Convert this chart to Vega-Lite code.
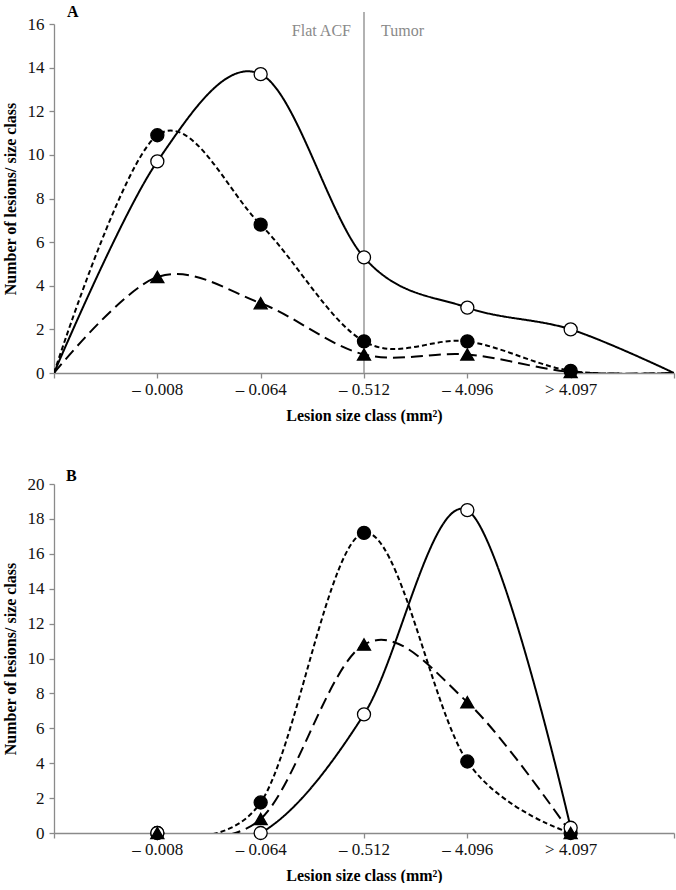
{
  "$schema": "https://vega.github.io/schema/vega-lite/v6.json",
  "background": "white",
  "padding": {"left": 2, "top": 4, "right": 2, "bottom": 0},
  "config": {
    "font": "Liberation Serif",
    "view": {"stroke": null},
    "concat": {"spacing": 45},
    "axis": {
      "grid": false,
      "domainColor": "#8a8a8a",
      "tickColor": "#8a8a8a",
      "domainWidth": 1.3,
      "tickWidth": 1.3,
      "tickSize": 5,
      "labelOverlap": false,
      "labelFont": "Liberation Serif",
      "labelFontSize": 17,
      "labelColor": "#111",
      "titleFont": "Liberation Serif",
      "titleFontSize": 16,
      "titleFontWeight": "bold",
      "titleColor": "#000"
    },
    "title": {"font": "Liberation Serif", "fontSize": 16, "fontWeight": "bold", "anchor": "start", "frame": "group", "color": "#000"}
  },
  "datasets": {
    "pts": [
      {"p": "A", "s": "filled", "x": 0, "y": 0},
      {"p": "A", "s": "filled", "x": 1, "y": 10.9},
      {"p": "A", "s": "filled", "x": 2, "y": 6.8},
      {"p": "A", "s": "filled", "x": 3, "y": 1.45},
      {"p": "A", "s": "filled", "x": 4, "y": 1.45},
      {"p": "A", "s": "filled", "x": 5, "y": 0.1},
      {"p": "A", "s": "filled", "x": 6, "y": 0},
      {"p": "A", "s": "open", "x": 0, "y": 0},
      {"p": "A", "s": "open", "x": 1, "y": 9.7},
      {"p": "A", "s": "open", "x": 2, "y": 13.7},
      {"p": "A", "s": "open", "x": 3, "y": 5.3},
      {"p": "A", "s": "open", "x": 4, "y": 3.0},
      {"p": "A", "s": "open", "x": 5, "y": 2.0},
      {"p": "A", "s": "open", "x": 6, "y": 0},
      {"p": "A", "s": "tri", "x": 0, "y": 0},
      {"p": "A", "s": "tri", "x": 1, "y": 4.4},
      {"p": "A", "s": "tri", "x": 2, "y": 3.2},
      {"p": "A", "s": "tri", "x": 3, "y": 0.85},
      {"p": "A", "s": "tri", "x": 4, "y": 0.85},
      {"p": "A", "s": "tri", "x": 5, "y": 0.05},
      {"p": "A", "s": "tri", "x": 6, "y": 0},
      {"p": "B", "s": "filled", "x": 1, "y": 0},
      {"p": "B", "s": "filled", "x": 2, "y": 1.75},
      {"p": "B", "s": "filled", "x": 3, "y": 17.2},
      {"p": "B", "s": "filled", "x": 4, "y": 4.1},
      {"p": "B", "s": "filled", "x": 5, "y": 0},
      {"p": "B", "s": "open", "x": 1, "y": 0},
      {"p": "B", "s": "open", "x": 2, "y": 0},
      {"p": "B", "s": "open", "x": 3, "y": 6.8},
      {"p": "B", "s": "open", "x": 4, "y": 18.5},
      {"p": "B", "s": "open", "x": 5, "y": 0.3},
      {"p": "B", "s": "tri", "x": 1, "y": 0},
      {"p": "B", "s": "tri", "x": 2, "y": 0.8},
      {"p": "B", "s": "tri", "x": 3, "y": 10.8},
      {"p": "B", "s": "tri", "x": 4, "y": 7.5},
      {"p": "B", "s": "tri", "x": 5, "y": 0}
    ],
    "divider": [{"x": 3, "y0": 0, "y1": 16.55}],
    "zones": [{"x": 3, "y": 15.7, "left": "Flat ACF", "right": "Tumor"}]
  },
  "vconcat": [
    {
      "width": 620,
      "height": 349,
      "title": {"text": "A", "dx": 13, "offset": -9},
      "layer": [
        {
          "data": {"name": "divider"},
          "mark": {"type": "rule", "color": "#999", "strokeWidth": 1.5},
          "encoding": {
            "x": {"field": "x", "type": "quantitative", "scale": {"domain": [0, 6], "nice": false, "zero": false}},
            "y": {"field": "y0", "type": "quantitative"},
            "y2": {"field": "y1"}
          }
        },
        {
          "data": {"name": "zones"},
          "mark": {"type": "text", "align": "right", "dx": -13, "baseline": "middle", "fontSize": 16, "color": "#8a8a8a", "font": "Liberation Serif"},
          "encoding": {
            "x": {"field": "x", "type": "quantitative"},
            "y": {"field": "y", "type": "quantitative"},
            "text": {"field": "left"}
          }
        },
        {
          "data": {"name": "zones"},
          "mark": {"type": "text", "align": "left", "dx": 17, "baseline": "middle", "fontSize": 16, "color": "#8a8a8a", "font": "Liberation Serif"},
          "encoding": {
            "x": {"field": "x", "type": "quantitative"},
            "y": {"field": "y", "type": "quantitative"},
            "text": {"field": "right"}
          }
        },
        {
          "data": {"name": "pts"},
          "transform": [{"filter": "datum.p === 'A'"}],
          "mark": {"type": "line", "interpolate": "cardinal", "color": "#000", "strokeWidth": 2, "clip": true},
          "encoding": {
            "x": {"field": "x", "type": "quantitative", "scale": {"domain": [0, 6], "nice": false, "zero": false},
              "axis": {"values": [0, 1, 2, 3, 4, 5, 6], "labelExpr": "['', '– 0.008', '– 0.064', '– 0.512', '– 4.096', '> 4.097', ''][datum.value]", "title": "Lesion size class (mm²)", "labelPadding": 3, "titlePadding": 10}},
            "y": {"field": "y", "type": "quantitative", "scale": {"domain": [0, 16], "nice": false},
              "axis": {"values": [0, 2, 4, 6, 8, 10, 12, 14, 16], "labelOverlap": false, "title": "Number of lesions/ size class", "labelPadding": 5, "titlePadding": 9}},
            "detail": {"field": "s"},
            "strokeDash": {"field": "s", "type": "nominal", "scale": {"domain": ["open", "filled", "tri"], "range": [[1, 0], [5, 3], [12, 6]]}, "legend": null}
          }
        },
        {
          "data": {"name": "pts"},
          "transform": [{"filter": "datum.p === 'A' && datum.x > 0 && datum.x < 6"}],
          "mark": {"type": "point", "filled": true, "stroke": "#000", "strokeWidth": 1.3, "opacity": 1},
          "encoding": {
            "x": {"field": "x", "type": "quantitative"},
            "y": {"field": "y", "type": "quantitative"},
            "shape": {"field": "s", "type": "nominal", "scale": {"domain": ["open", "filled", "tri"], "range": ["circle", "circle", "triangle-up"]}, "legend": null},
            "fill": {"field": "s", "type": "nominal", "scale": {"domain": ["open", "filled", "tri"], "range": ["#ffffff", "#000000", "#000000"]}, "legend": null},
            "size": {"field": "s", "type": "nominal", "scale": {"domain": ["open", "filled", "tri"], "range": [170, 170, 130]}, "legend": null}
          }
        }
      ]
    },
    {
      "width": 620,
      "height": 349,
      "title": {"text": "B", "dx": 12, "offset": -9},
      "layer": [
        {
          "data": {"name": "pts"},
          "transform": [{"filter": "datum.p === 'B'"}],
          "mark": {"type": "line", "interpolate": "cardinal", "color": "#000", "strokeWidth": 2, "clip": true},
          "encoding": {
            "x": {"field": "x", "type": "quantitative", "scale": {"domain": [0, 6], "nice": false, "zero": false},
              "axis": {"values": [0, 1, 2, 3, 4, 5, 6], "labelExpr": "['', '– 0.008', '– 0.064', '– 0.512', '– 4.096', '> 4.097', ''][datum.value]", "title": "Lesion size class (mm²)", "labelPadding": 3, "titlePadding": 10}},
            "y": {"field": "y", "type": "quantitative", "scale": {"domain": [0, 20], "nice": false},
              "axis": {"values": [0, 2, 4, 6, 8, 10, 12, 14, 16, 18, 20], "tickCount": 11, "labelOverlap": false, "title": "Number of lesions/ size class", "labelPadding": 5, "titlePadding": 9}},
            "detail": {"field": "s"},
            "strokeDash": {"field": "s", "type": "nominal", "scale": {"domain": ["open", "filled", "tri"], "range": [[1, 0], [5, 3], [12, 6]]}, "legend": null}
          }
        },
        {
          "data": {"name": "pts"},
          "transform": [{"filter": "datum.p === 'B'"}],
          "mark": {"type": "point", "filled": true, "stroke": "#000", "strokeWidth": 1.3, "opacity": 1},
          "encoding": {
            "x": {"field": "x", "type": "quantitative"},
            "y": {"field": "y", "type": "quantitative",
              "axis": {"values": [0, 2, 4, 6, 8, 10, 12, 14, 16, 18, 20], "tickCount": 11, "labelOverlap": false, "title": "Number of lesions/ size class", "labelPadding": 5, "titlePadding": 9}},
            "shape": {"field": "s", "type": "nominal", "scale": {"domain": ["open", "filled", "tri"], "range": ["circle", "circle", "triangle-up"]}, "legend": null},
            "fill": {"field": "s", "type": "nominal", "scale": {"domain": ["open", "filled", "tri"], "range": ["#ffffff", "#000000", "#000000"]}, "legend": null},
            "size": {"field": "s", "type": "nominal", "scale": {"domain": ["open", "filled", "tri"], "range": [170, 170, 130]}, "legend": null}
          }
        }
      ]
    }
  ]
}
